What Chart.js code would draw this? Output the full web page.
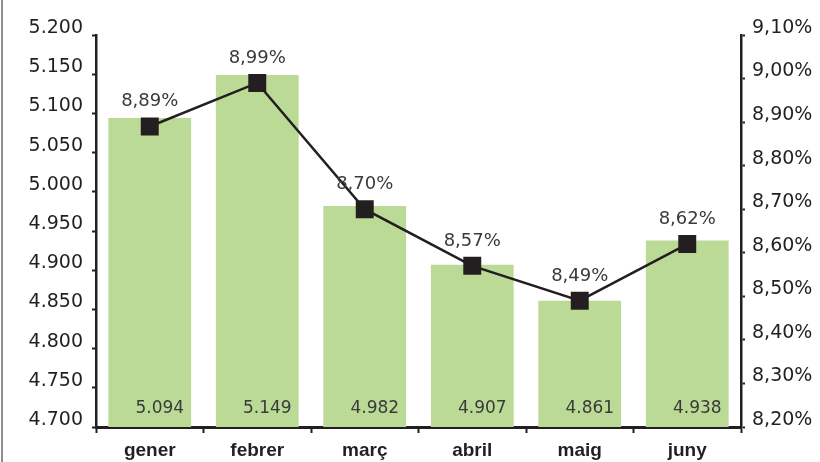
<!DOCTYPE html>
<html>
<head>
<meta charset="utf-8">
<script src="https://cdn.jsdelivr.net/npm/chart.js@4/dist/chart.umd.min.js"></script>
<style>
  html, body { margin: 0; padding: 0; background: #fff; }
  #wrap { width: 820px; height: 462px; position: relative; }
</style>
</head>
<body>
<div id="wrap"><canvas id="c" width="820" height="462"></canvas></div>
<script>
const categories = ['gener', 'febrer', 'març', 'abril', 'maig', 'juny'];
const barValues = [5094, 5149, 4982, 4907, 4861, 4938];
const lineValues = [8.89, 8.99, 8.70, 8.57, 8.49, 8.62];
const leftAxis = { min: 4700, max: 5200, step: 50 };
const rightAxis = { min: 8.2, max: 9.1, step: 0.1 };

const INK = '#231f20';
const fmtThousands = v => (v / 1000).toFixed(3);
const fmtPct = v => v.toFixed(2).replace('.', ',') + '%';

const decor = {
  id: 'decor',
  beforeDraw(chart) {
    const ctx = chart.ctx;
    ctx.save();
    ctx.fillStyle = '#8f8f8f';
    ctx.fillRect(1, 0, 2, chart.height);
    ctx.restore();
  },
  afterDatasetsDraw(chart) {
    const ctx = chart.ctx;
    ctx.save();
    const barMeta = chart.getDatasetMeta(0);
    ctx.font = '17px "DejaVu Sans"';
    ctx.fillStyle = '#3a3a3a';
    ctx.textAlign = 'right';
    ctx.textBaseline = 'alphabetic';
    barMeta.data.forEach((bar, i) => {
      const right = bar.x + bar.width / 2 - 7;
      ctx.fillText(fmtThousands(barValues[i]), right, chart.chartArea.bottom - 14);
    });
    const lineMeta = chart.getDatasetMeta(1);
    ctx.font = '18px "DejaVu Sans"';
    ctx.textAlign = 'center';
    lineMeta.data.forEach((pt, i) => {
      ctx.fillText(fmtPct(lineValues[i]), pt.x, pt.y - 20);
    });
    ctx.restore();
  }
};

new Chart(document.getElementById('c'), {
  data: {
    labels: categories,
    datasets: [
      {
        type: 'bar',
        data: barValues,
        yAxisID: 'y',
        backgroundColor: '#bbda96',
        borderWidth: 0,
        categoryPercentage: 1,
        barPercentage: 0.77,
        order: 1
      },
      {
        type: 'line',
        data: lineValues,
        yAxisID: 'y1',
        borderColor: INK,
        borderWidth: 2.5,
        pointStyle: 'rect',
        pointRadius: 12.7,
        pointBackgroundColor: INK,
        pointBorderColor: INK,
        pointBorderWidth: 0,
        tension: 0,
        order: 0
      }
    ]
  },
  options: {
    responsive: false,
    animation: false,
    layout: { padding: { top: 35, left: 0, right: 0, bottom: 0 } },
    plugins: { legend: { display: false }, tooltip: { enabled: false } },
    scales: {
      x: {
        offset: true,
        grid: { display: true, offset: true, drawOnChartArea: false, drawTicks: true, tickLength: 6, tickWidth: 2, tickColor: INK },
        border: { display: true, color: INK, width: 3 },
        ticks: { color: INK, font: { family: '"Liberation Sans"', size: 19, weight: 'bold' }, padding: 6, maxRotation: 0 },
        afterFit(s) { s.height = 35; }
      },
      y: {
        position: 'left',
        min: leftAxis.min, max: leftAxis.max,
        grid: { display: true, drawOnChartArea: false, drawTicks: true, tickLength: 4, tickWidth: 2, tickColor: INK },
        border: { display: true, color: INK, width: 2.5 },
        ticks: {
          stepSize: leftAxis.step,
          color: INK,
          font: { family: '"DejaVu Sans"', size: 19 },
          padding: 9,
          labelOffset: -7,
          callback: v => fmtThousands(v)
        },
        afterFit(s) { s.width = 96; }
      },
      y1: {
        position: 'right',
        min: rightAxis.min, max: rightAxis.max,
        grid: { display: true, drawOnChartArea: false, drawTicks: true, tickLength: 4, tickWidth: 2, tickColor: INK },
        border: { display: true, color: INK, width: 2.5 },
        ticks: {
          stepSize: rightAxis.step,
          color: INK,
          font: { family: '"DejaVu Sans"', size: 19 },
          padding: 7,
          labelOffset: -7,
          callback: v => fmtPct(v)
        },
        afterFit(s) { s.width = 79; }
      }
    }
  },
  plugins: [decor]
});
</script>
</body>
</html>
